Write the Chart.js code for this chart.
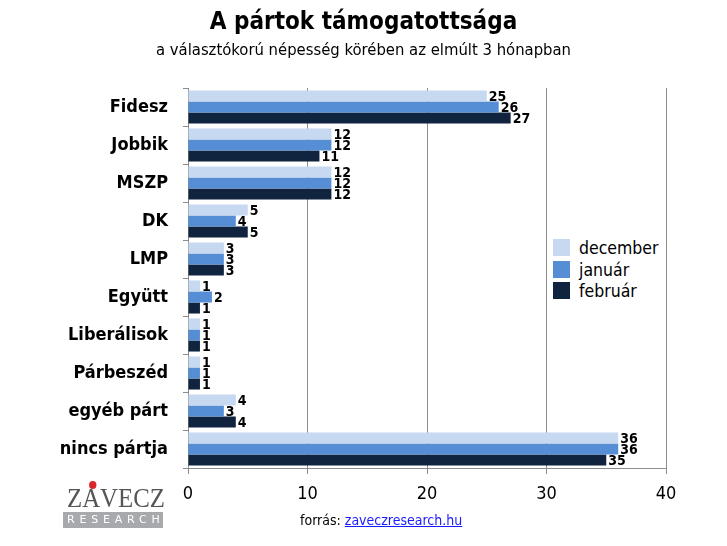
<!DOCTYPE html>
<html><head><meta charset="utf-8">
<script src="https://cdn.jsdelivr.net/npm/chart.js@4"></script>
<style>
html,body{margin:0;padding:0;background:#fff;}
#wrap{position:relative;width:727px;height:546px;overflow:hidden;font-family:"DejaVu Sans Condensed","DejaVu Sans",sans-serif;}
#c{position:absolute;left:0;top:0;}
.title{position:absolute;left:0;width:727px;text-align:center;top:7px;font-size:24px;font-weight:bold;color:#000;}
.sub{position:absolute;left:0;width:727px;text-align:center;top:40px;font-size:16.5px;color:#000;}
.legend{position:absolute;left:553px;top:238px;width:112px;background:#fff;font-size:17.5px;color:#000;}
.legend div{height:21.5px;line-height:21.5px;white-space:nowrap;}
.legend span{display:inline-block;width:17px;height:17px;vertical-align:-2px;margin-right:9px;}
.src{position:absolute;left:300px;top:512px;font-size:14px;color:#000;}
.src a{color:#1a1aff;text-decoration:underline;}
.logo{position:absolute;left:63px;top:485px;width:100px;}
.logo .z{font-family:"Liberation Serif",serif;font-size:27px;color:#555;line-height:26px;text-align:center;position:relative;transform:scaleX(0.92);transform-origin:center;}
.logo .dot{position:absolute;left:24px;top:-4px;width:8px;height:8px;border-radius:50%;background:#d9262b;}
.logo .r{background:#a8a9ad;color:#fff;font-size:11px;letter-spacing:4.8px;text-align:center;height:16px;line-height:16px;margin-top:1px;font-family:"DejaVu Sans",sans-serif;padding-left:4px;}
</style></head>
<body><div id="wrap">
<canvas id="c" width="727" height="546"></canvas>
<div class="title">A pártok támogatottsága</div>
<div class="sub">a választókorú népesség körében az elmúlt 3 hónapban</div>
<div class="legend" id="legend"></div>
<div class="logo"><div class="z">ZÁVECZ<div class="dot"></div></div><div class="r">RESEARCH</div></div>
<div class="src">forrás: <a>zaveczresearch.hu</a></div>
</div>
<script>
const categories = ["Fidesz","Jobbik","MSZP","DK","LMP","Együtt","Liberálisok","Párbeszéd","egyéb párt","nincs pártja"];
const seriesNames = ["december","január","február"];
const december = [25,12,12,5,3,1,1,1,4,36];
const januar = [26,12,12,4,3,2,1,1,3,36];
const februar = [27,11,12,5,3,1,1,1,4,35];
const xTicks = [0,10,20,30,40];
const colors = ["#c6d9f1","#558ed5","#10243f"];

const lg = document.getElementById('legend');
seriesNames.forEach((n,i)=>{const d=document.createElement('div');d.innerHTML='<span style="background:'+colors[i]+'"></span>'+n;lg.appendChild(d);});

const valueLabels = {
  id:'valueLabels',
  afterDatasetsDraw(chart){
    const ctx=chart.ctx;
    ctx.save();
    ctx.font='bold 14px "DejaVu Sans Condensed","DejaVu Sans",sans-serif';
    ctx.fillStyle='#000';
    ctx.textBaseline='middle';
    ctx.textAlign='left';
    chart.data.datasets.forEach((ds,di)=>{
      const meta=chart.getDatasetMeta(di);
      meta.data.forEach((bar,i)=>{
        ctx.fillText(String(ds.data[i]), bar.x+2, bar.y+1);
      });
    });
    ctx.restore();
  }
};

new Chart(document.getElementById('c'),{
  type:'bar',
  data:{labels:categories,datasets:[
    {label:seriesNames[0],data:december,backgroundColor:colors[0]},
    {label:seriesNames[1],data:januar,backgroundColor:colors[1]},
    {label:seriesNames[2],data:februar,backgroundColor:colors[2]}
  ]},
  options:{
    indexAxis:'y',
    responsive:false,
    animation:false,
    devicePixelRatio:1,
    layout:{padding:{top:88,right:61,left:0,bottom:0}},
    datasets:{bar:{categoryPercentage:0.87,barPercentage:1.0}},
    plugins:{legend:{display:false},tooltip:{enabled:false}},
    scales:{
      x:{
        min:0,max:40,
        afterBuildTicks(s){s.ticks=xTicks.map(v=>({value:v}));},
        afterFit(s){s.height=78;},
        grid:{color:'#8c8c8c',lineWidth:1,tickLength:6,drawTicks:true},
        border:{color:'#8c8c8c',width:1},
        ticks:{font:{size:18,family:'"DejaVu Sans Condensed","DejaVu Sans",sans-serif'},color:'#000',padding:10}
      },
      y:{
        afterFit(s){s.width=188;},
        grid:{drawOnChartArea:false,drawTicks:true,tickLength:5,color:'#8c8c8c',offset:true},
        border:{color:'#8c8c8c',width:1},
        ticks:{font:{size:18,weight:'bold',family:'"DejaVu Sans Condensed","DejaVu Sans",sans-serif'},color:'#000',padding:15}
      }
    }
  },
  plugins:[valueLabels]
});
</script>
</body></html>
